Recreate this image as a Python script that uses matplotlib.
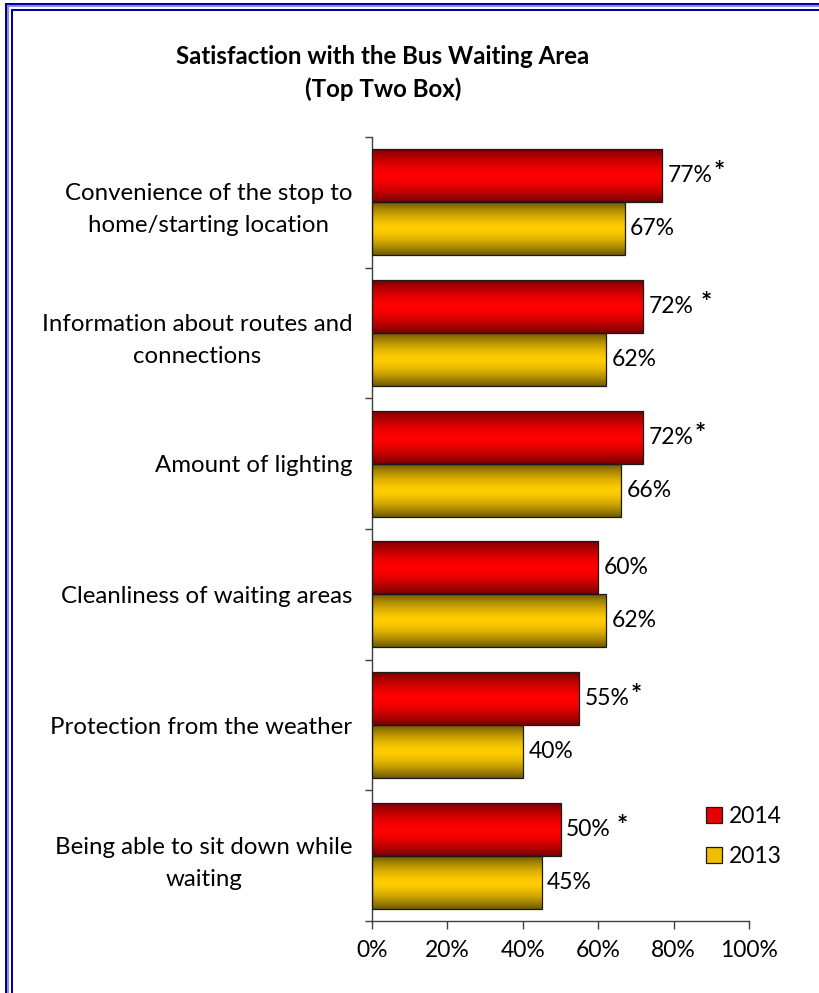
import numpy as np
import matplotlib
matplotlib.use("Agg")
import matplotlib.pyplot as plt
from matplotlib.patches import Rectangle
from matplotlib.colors import LinearSegmentedColormap

plt.rcParams['font.family'] = ['Lato', 'DejaVu Sans']

# ---------------- data ----------------
categories = [
    "Convenience of the stop to\nhome/starting location",
    "Information about routes and\nconnections",
    "Amount of lighting",
    "Cleanliness of waiting areas",
    "Protection from the weather",
    "Being able to sit down while\nwaiting",
]
values_2014 = [77, 72, 72, 60, 55, 50]
values_2013 = [67, 62, 66, 62, 40, 45]
sig_2014 = ["*", " *", "*", "", "*", " *"]
series_names = ["2014", "2013"]
x_ticks = [0, 20, 40, 60, 80, 100]
x_tick_labels = ["0%", "20%", "40%", "60%", "80%", "100%"]
title = "Satisfaction with the Bus Waiting Area\n(Top Two Box)"

# ---------------- figure ----------------
W, H = 819, 993
fig = plt.figure(figsize=(W / 100, H / 100), dpi=100)
fig.patch.set_facecolor("white")

def px_rect(x0, y0, x1, y1, color):
    fig.add_artist(Rectangle((x0 / W, 1 - y1 / H), (x1 - x0) / W, (y1 - y0) / H,
                             transform=fig.transFigure, facecolor=color,
                             edgecolor="none", zorder=10))

dark_blue = "#0000a0"
light_blue = "#8c8cd8"
px_rect(5, 3, 7, H, dark_blue)
px_rect(5, 3, W, 5, dark_blue)
px_rect(7, 5, 9, H, light_blue)
px_rect(7, 5, W, 7, light_blue)
px_rect(11, 9, 13, H, dark_blue)
px_rect(11, 9, W, 11, dark_blue)

left, right, top, bottom = 372, 749, 137, 921
ax = fig.add_axes([left / W, 1 - bottom / H, (right - left) / W, (bottom - top) / H])

y = np.arange(len(categories))
h = 0.405
red_bars = ax.barh(y - h / 2, values_2014, height=h, color="#ff0000",
                   edgecolor="#1a1a1a", linewidth=0.9, label=series_names[0], zorder=3)
gold_bars = ax.barh(y + h / 2, values_2013, height=h, color="#ffcc00",
                    edgecolor="#1a1a1a", linewidth=0.9, label=series_names[1], zorder=3)

t = np.linspace(0, 1, 256)
prof = 1 - np.abs(2 * t - 1) ** 1.6
grad = prof.reshape(-1, 1)
cmap_red = LinearSegmentedColormap.from_list("r", ["#780000", "#ff0000"])
cmap_gold = LinearSegmentedColormap.from_list("g", ["#6e5800", "#ffcc00"])

def shade(bars, cmap):
    for b in bars:
        x0, y0 = b.get_x(), b.get_y()
        w, hh = b.get_width(), b.get_height()
        im = ax.imshow(grad, cmap=cmap, vmin=0, vmax=1, aspect="auto",
                       extent=(x0, x0 + w, y0 + hh, y0), zorder=2.5,
                       interpolation="bilinear")
        im.set_clip_path(b)
        b.set_facecolor("none")

shade(red_bars, cmap_red)
shade(gold_bars, cmap_gold)

fs_val = 16.5
fs_lab = 17.3
for b, v, s in zip(red_bars, values_2014, sig_2014):
    ann = ax.annotate(f"{v}%", (b.get_width(), b.get_y() + b.get_height() / 2),
                      xytext=(4, 0), textcoords="offset points", va="center",
                      ha="left", fontsize=fs_val)
    if s:
        gap = 4.5 if s.startswith(" ") else 0.5
        ax.annotate("*", xy=(1, 0.5), xycoords=ann, xytext=(gap, 2.5),
                    textcoords="offset points", va="center", ha="left",
                    fontsize=19, fontweight="bold")
for b, v in zip(gold_bars, values_2013):
    ax.annotate(f"{v}%", (b.get_width(), b.get_y() + b.get_height() / 2),
                xytext=(4, 0), textcoords="offset points", va="center",
                ha="left", fontsize=fs_val)

ax.set_xlim(0, 100)
ax.set_ylim(len(categories) - 0.5, -0.5)
ax.set_xticks(x_ticks)
ax.set_xticklabels(x_tick_labels, fontsize=fs_val)
ax.set_yticks(np.arange(len(categories) + 1) - 0.5)
ax.set_yticklabels([])
ax.set_yticks(y, categories, minor=True)
ax.tick_params(axis="y", which="minor", length=0, pad=14, labelsize=fs_lab)
ax.tick_params(axis="y", which="major", length=5, width=1, color="#404040")
ax.tick_params(axis="x", length=6, width=1, color="#404040", pad=8)
for lab in ax.get_yticklabels(minor=True):
    lab.set_multialignment("center")
    lab.set_linespacing(1.65)
for sp in ["top", "right"]:
    ax.spines[sp].set_visible(False)
for sp in ["left", "bottom"]:
    ax.spines[sp].set_color("#404040")
    ax.spines[sp].set_linewidth(1)

leg_handles = [Rectangle((0, 0), 1, 1, facecolor="#e80000", edgecolor="#1a1a1a", linewidth=0.9),
               Rectangle((0, 0), 1, 1, facecolor="#f0c000", edgecolor="#1a1a1a", linewidth=0.9)]
ax.legend(leg_handles, series_names, loc="upper left",
          bbox_to_anchor=(701 / W, 1 - 801 / H), bbox_transform=fig.transFigure,
          frameon=False, fontsize=fs_val, handlelength=0.7, handleheight=0.7,
          handletextpad=0.3, labelspacing=0.85, borderaxespad=0, borderpad=0.2)

fig.text(383 / W, 1 - 73 / H, title, ha="center", va="center", fontsize=17.3,
         fontweight="bold", linespacing=1.45)

fig.savefig("out.png", dpi=100)
